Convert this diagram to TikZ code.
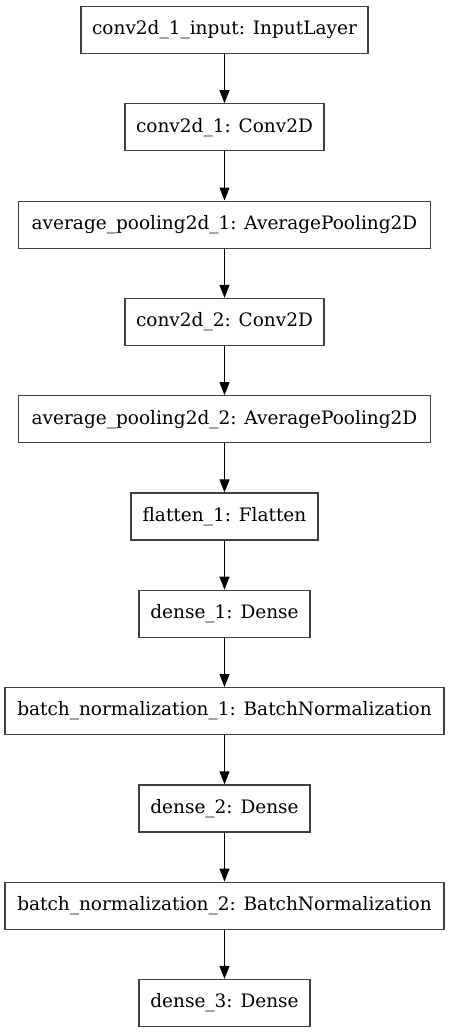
\documentclass[tikz,border=0pt]{standalone}
\usepackage{fontspec}
\setmainfont{DejaVu Serif}
\usetikzlibrary{arrows.meta}
\begin{document}
\begin{tikzpicture}[x=1pt,y=-1pt,
  layer/.style={draw=black!75,line width=1.2pt,minimum height=47pt,inner sep=0pt,font=\fontsize{18.5}{20}\selectfont,fill=white},
  link/.style={line width=1pt,-{Triangle[length=13pt,width=10pt]}}]
\useasboundingbox (0,0) rectangle (449,1033);
\node[layer,minimum width=287pt] (n1) at (224.5,30) {conv2d\_1\_input: InputLayer};
\node[layer,minimum width=199pt] (n2) at (224.5,127.3) {conv2d\_1: Conv2D};
\node[layer,minimum width=412pt] (n3) at (224.5,224.6) {average\_pooling2d\_1: AveragePooling2D};
\node[layer,minimum width=199pt] (n4) at (224.5,321.9) {conv2d\_2: Conv2D};
\node[layer,minimum width=412pt] (n5) at (224.5,419.2) {average\_pooling2d\_2: AveragePooling2D};
\node[layer,minimum width=187pt] (n6) at (224.5,516.5) {flatten\_1: Flatten};
\node[layer,minimum width=171pt] (n7) at (224.5,613.8) {dense\_1: Dense};
\node[layer,minimum width=439pt] (n8) at (224.5,711.1) {batch\_normalization\_1: BatchNormalization};
\node[layer,minimum width=171pt] (n9) at (224.5,808.4) {dense\_2: Dense};
\node[layer,minimum width=439pt] (n10) at (224.5,905.7) {batch\_normalization\_2: BatchNormalization};
\node[layer,minimum width=171pt] (n11) at (224.5,1003) {dense\_3: Dense};
\foreach \a/\b in {n1/n2,n2/n3,n3/n4,n4/n5,n5/n6,n6/n7,n7/n8,n8/n9,n9/n10,n10/n11}
  \draw[link] (\a.south) -- (\b.north);
\end{tikzpicture}
\end{document}
